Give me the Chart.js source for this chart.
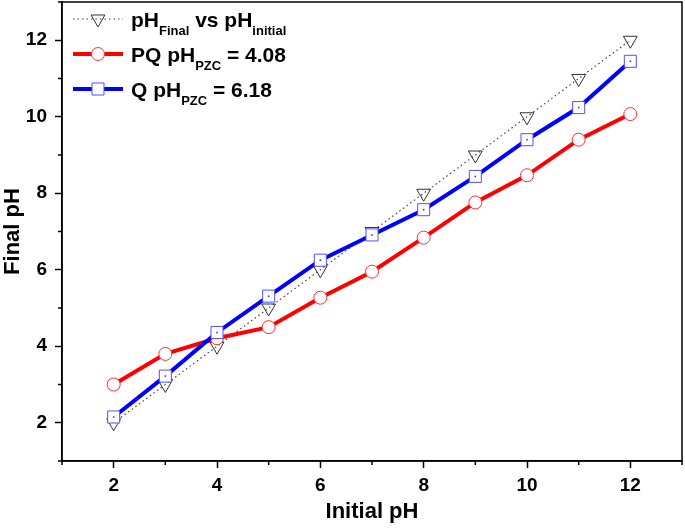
<!DOCTYPE html>
<html>
<head>
<meta charset="utf-8">
<script src="https://cdn.jsdelivr.net/npm/chart.js@4.4.1/dist/chart.umd.min.js"></script>
<style>
  html, body { margin: 0; padding: 0; background: #fff; }
  #wrap { width: 685px; height: 528px; }
</style>
</head>
<body>
<div id="wrap"><canvas id="phChart" width="685" height="528"></canvas></div>
<script>
// data
const initialPH = [2, 3, 4, 5, 6, 7, 8, 9, 10, 11, 12];
const finalPH = [2, 3, 4, 5, 6, 7, 8, 9, 10, 11, 12];
const pqFinal = [3.00, 3.80, 4.21, 4.50, 5.27, 5.95, 6.84, 7.76, 8.47, 9.40, 10.07];
const qFinal = [2.15, 3.22, 4.36, 5.31, 6.25, 6.91, 7.57, 8.44, 9.40, 10.24, 11.45];

const xTicks = [2, 4, 6, 8, 10, 12];
const yTicks = [2, 4, 6, 8, 10, 12];
const minorTicks = [1, 3, 5, 7, 9, 11, 13];

// legend text parts: [main, subscript, main, subscript]
const legendParts = [
    ['pH', 'Final', ' vs pH', 'initial'],
    ['PQ pH', 'PZC', ' = 4.08'],
    ['Q pH', 'PZC', ' = 6.18']
];

const FONT = '"Liberation Sans", Arial, Helvetica, sans-serif';

function toPoints(ys) {
    return initialPH.map((x, i) => ({ x: x, y: ys[i] }));
}

// no extra room for edge tick labels, the frame is fixed
function noEdgePadding(scale) {
    scale.paddingTop = 0;
    scale.paddingBottom = 0;
    scale.paddingLeft = 0;
    scale.paddingRight = 0;
}

// frame, minor ticks, square dots and legend
const extrasPlugin = {
    id: 'extras',
    afterDatasetsDraw(chart) {
        const ctx = chart.ctx;
        // centre dot in the blue squares
        const meta = chart.getDatasetMeta(0);
        ctx.save();
        ctx.fillStyle = '#2020ff';
        meta.data.forEach(pt => {
            ctx.fillRect(pt.x - 0.75, pt.y - 0.75, 1.5, 1.5);
        });
        ctx.restore();
    },
    afterDraw(chart) {
        const ctx = chart.ctx;
        const area = chart.chartArea;
        const xs = chart.scales.x;
        const ys = chart.scales.y;
        ctx.save();
        ctx.strokeStyle = '#000';
        ctx.lineWidth = 1.5;
        ctx.strokeRect(area.left, area.top, area.right - area.left, area.bottom - area.top);

        // minor ticks
        ctx.beginPath();
        minorTicks.forEach(v => {
            const px = xs.getPixelForValue(v);
            ctx.moveTo(px, area.bottom);
            ctx.lineTo(px, area.bottom + 4);
            const py = ys.getPixelForValue(v);
            ctx.moveTo(area.left, py);
            ctx.lineTo(area.left - 4, py);
        });
        ctx.stroke();

        // legend
        const rowBase = [27, 62, 97];
        const lineX0 = 73, lineX1 = 123, textX = 131;
        chart.data.datasets.forEach(ds => {
            const row = ds.legendRow;
            const ly = rowBase[row] - 8;
            ctx.save();
            ctx.strokeStyle = ds.borderColor;
            ctx.lineWidth = ds.borderWidth;
            ctx.setLineDash(ds.borderDash || []);
            ctx.beginPath();
            ctx.moveTo(lineX0, ly);
            ctx.lineTo(lineX1, ly);
            ctx.stroke();
            ctx.restore();

            ctx.save();
            ctx.fillStyle = ds.pointBackgroundColor;
            ctx.strokeStyle = ds.pointBorderColor;
            ctx.lineWidth = ds.pointBorderWidth;
            Chart.helpers.drawPoint(ctx, {
                pointStyle: ds.pointStyle,
                rotation: ds.pointRotation || 0,
                radius: ds.pointRadius,
                borderWidth: ds.pointBorderWidth
            }, (lineX0 + lineX1) / 2, ly);
            ctx.restore();

            let x = textX;
            ctx.fillStyle = '#000';
            ctx.textBaseline = 'alphabetic';
            ctx.textAlign = 'left';
            legendParts[row].forEach((part, i) => {
                const isSub = i % 2 === 1;
                ctx.font = isSub ? 'bold 13px ' + FONT : 'bold 21px ' + FONT;
                ctx.fillText(part, x, rowBase[row] + (isSub ? 8 : 0));
                x += ctx.measureText(part).width;
            });
        });
        ctx.restore();
    }
};

document.addEventListener('DOMContentLoaded', function() {
    const ctx = document.getElementById('phChart').getContext('2d');

    new Chart(ctx, {
        type: 'line',
        data: {
            datasets: [
                {
                    label: 'Q pH PZC = 6.18',
                    legendRow: 2,
                    data: toPoints(qFinal),
                    borderColor: '#0000ff',
                    borderWidth: 4,
                    pointStyle: 'rect',
                    pointRadius: 8.5,
                    pointBorderWidth: 1,
                    pointBorderColor: '#5050ff',
                    pointBackgroundColor: '#ffffff',
                    order: 1
                },
                {
                    label: 'PQ pH PZC = 4.08',
                    legendRow: 1,
                    data: toPoints(pqFinal),
                    borderColor: '#ff0000',
                    borderWidth: 4,
                    pointStyle: 'circle',
                    pointRadius: 6.5,
                    pointBorderWidth: 1,
                    pointBorderColor: '#ff3030',
                    pointBackgroundColor: '#ffffff',
                    order: 2
                },
                {
                    label: 'pH Final vs pH initial',
                    legendRow: 0,
                    data: toPoints(finalPH),
                    borderColor: '#444444',
                    borderWidth: 1.2,
                    borderDash: [1.5, 3],
                    pointStyle: 'triangle',
                    pointRotation: 180,
                    pointRadius: 8,
                    pointBorderWidth: 1,
                    pointBorderColor: '#333333',
                    pointBackgroundColor: 'rgba(255,255,255,0)',
                    order: 3
                }
            ]
        },
        options: {
            responsive: false,
            animation: false,
            layout: { autoPadding: false, padding: { top: 2, right: 3, left: 0, bottom: 0 } },
            plugins: {
                legend: { display: false },
                tooltip: { enabled: false }
            },
            scales: {
                x: {
                    type: 'linear',
                    min: 1,
                    max: 13,
                    afterBuildTicks: scale => { scale.ticks = xTicks.map(v => ({ value: v })); },
                    afterFit: scale => { scale.height = 67; noEdgePadding(scale); },
                    grid: { drawOnChartArea: false, tickLength: 7, tickColor: '#000', tickWidth: 1.5 },
                    border: { color: '#000', width: 1.5 },
                    ticks: {
                        color: '#000',
                        padding: 6,
                        maxRotation: 0,
                        font: { family: FONT, size: 19, weight: 'bold' }
                    },
                    title: {
                        display: true,
                        text: 'Initial pH',
                        color: '#000',
                        padding: { top: 0, bottom: 3 },
                        font: { family: FONT, size: 22, weight: 'bold' }
                    }
                },
                y: {
                    type: 'linear',
                    min: 1,
                    max: 13,
                    afterBuildTicks: scale => { scale.ticks = yTicks.map(v => ({ value: v })); },
                    afterFit: scale => { scale.width = 62; noEdgePadding(scale); },
                    grid: { drawOnChartArea: false, tickLength: 7, tickColor: '#000', tickWidth: 1.5 },
                    border: { color: '#000', width: 1.5 },
                    ticks: {
                        color: '#000',
                        padding: 8,
                        font: { family: FONT, size: 19, weight: 'bold' }
                    },
                    title: {
                        display: true,
                        text: 'Final pH',
                        color: '#000',
                        padding: { top: 0, bottom: 0 },
                        font: { family: FONT, size: 22, weight: 'bold' }
                    }
                }
            }
        },
        plugins: [extrasPlugin]
    });
});
</script>
</body>
</html>
